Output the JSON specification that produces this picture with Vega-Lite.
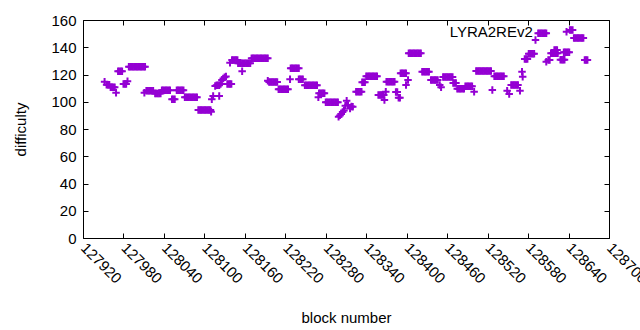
{
  "$schema": "https://vega.github.io/schema/vega-lite/v6.json",
  "width": 526,
  "height": 218,
  "autosize": {"type": "none"},
  "padding": {"left": 83, "top": 20, "right": 31, "bottom": 92},
  "background": "white",
  "config": {
    "view": {"stroke": "black", "strokeWidth": 1},
    "font": "Liberation Sans",
    "axis": {"labelFont": "Liberation Sans", "titleFont": "Liberation Sans", "labelFontSize": 15, "titleFontSize": 15, "titleFontWeight": "normal", "labelColor": "black", "titleColor": "black", "tickColor": "black", "domain": false, "grid": false, "tickSize": -5, "tickWidth": 1}
  },
  "resolve": {"axis": {"x": "independent", "y": "independent"}},
  "layer": [
    {
      "data": {"values": [
        {"b":127952,"d":114.7},
        {"b":127955,"d":112.5},{"b":127957,"d":112.5},{"b":127959,"d":112.5},
        {"b":127961,"d":110.6},{"b":127963,"d":110.6},{"b":127965,"d":110.6},{"b":127967,"d":110.6},
        {"b":127969,"d":106.6},
        {"b":127972,"d":122.3},{"b":127974,"d":122.3},{"b":127976,"d":122.3},{"b":127978,"d":122.3},
        {"b":127980,"d":113},{"b":127982,"d":113},{"b":127984,"d":113},
        {"b":127986,"d":115},
        {"b":127988,"d":125.7},{"b":127990,"d":125.7},{"b":127992,"d":125.7},{"b":127994,"d":125.7},{"b":127996,"d":125.7},{"b":127998,"d":125.7},{"b":128000,"d":125.7},{"b":128002,"d":125.7},{"b":128004,"d":125.7},{"b":128006,"d":125.7},{"b":128008,"d":125.7},{"b":128010,"d":125.7},{"b":128012,"d":125.7},
        {"b":128011,"d":106.6},
        {"b":128014,"d":108},{"b":128016,"d":108},{"b":128018,"d":108},{"b":128020,"d":108},{"b":128022,"d":108},{"b":128024,"d":108},
        {"b":128027,"d":106},{"b":128029,"d":106},{"b":128031,"d":106},{"b":128033,"d":106},{"b":128035,"d":106},
        {"b":128037,"d":108.5},{"b":128039,"d":108.5},{"b":128041,"d":108.5},{"b":128043,"d":108.5},{"b":128045,"d":108.5},{"b":128047,"d":108.5},{"b":128049,"d":108.5},
        {"b":128052,"d":101.8},{"b":128054,"d":101.8},{"b":128056,"d":101.8},
        {"b":128059,"d":108.4},{"b":128061,"d":108.4},{"b":128063,"d":108.4},{"b":128065,"d":108.4},{"b":128067,"d":108.4},{"b":128069,"d":108.4},
        {"b":128071,"d":103.3},{"b":128073,"d":103.3},{"b":128075,"d":103.3},{"b":128077,"d":103.3},{"b":128079,"d":103.3},{"b":128081,"d":103.3},{"b":128083,"d":103.3},{"b":128085,"d":103.3},{"b":128087,"d":103.3},{"b":128089,"d":103.3},
        {"b":128091,"d":94},{"b":128093,"d":94},{"b":128095,"d":94},{"b":128097,"d":94},{"b":128099,"d":94},{"b":128101,"d":94},{"b":128103,"d":94},{"b":128105,"d":94},{"b":128107,"d":94},{"b":128109,"d":94},
        {"b":128110,"d":92.7},{"b":128111,"d":101.8},{"b":128113,"d":104.2},{"b":128116,"d":111.6},
        {"b":128118,"d":112.1},{"b":128120,"d":112.1},{"b":128122,"d":112.1},
        {"b":128122,"d":104.2},{"b":128124,"d":113},
        {"b":128126,"d":116},{"b":128128,"d":117},{"b":128130,"d":118},{"b":128132,"d":118.5},
        {"b":128134,"d":113},{"b":128136,"d":113},{"b":128138,"d":113},{"b":128140,"d":113},
        {"b":128138,"d":128.7},
        {"b":128141,"d":130.6},{"b":128143,"d":130.6},{"b":128145,"d":130.6},{"b":128147,"d":130.6},{"b":128149,"d":130.6},
        {"b":128150,"d":128.2},{"b":128152,"d":128.2},{"b":128154,"d":128.2},{"b":128156,"d":128.2},{"b":128158,"d":128.2},{"b":128160,"d":128.2},{"b":128162,"d":128.2},{"b":128164,"d":128.2},{"b":128166,"d":128.2},{"b":128168,"d":128.2},
        {"b":128156,"d":122.3},
        {"b":128170,"d":131.9},{"b":128172,"d":131.9},{"b":128174,"d":131.9},{"b":128176,"d":131.9},{"b":128178,"d":131.9},{"b":128180,"d":131.9},{"b":128182,"d":131.9},{"b":128184,"d":131.9},{"b":128186,"d":131.9},{"b":128188,"d":131.9},{"b":128190,"d":131.9},{"b":128192,"d":131.9},{"b":128194,"d":131.9},
        {"b":128194,"d":115.4},
        {"b":128196,"d":114.5},{"b":128198,"d":114.5},{"b":128200,"d":114.5},{"b":128202,"d":114.5},{"b":128204,"d":114.5},{"b":128206,"d":114.5},{"b":128208,"d":114.5},
        {"b":128210,"d":109.1},{"b":128212,"d":109.1},{"b":128214,"d":109.1},{"b":128216,"d":109.1},{"b":128218,"d":109.1},{"b":128220,"d":109.1},{"b":128222,"d":109.1},{"b":128224,"d":109.1},
        {"b":128227,"d":116.5},
        {"b":128228,"d":124.6},{"b":128230,"d":124.6},{"b":128232,"d":124.6},{"b":128234,"d":124.6},{"b":128236,"d":124.6},{"b":128238,"d":124.6},{"b":128240,"d":124.6},
        {"b":128240,"d":116.5},{"b":128242,"d":116.5},{"b":128244,"d":116.5},{"b":128246,"d":116.5},
        {"b":128249,"d":112.1},{"b":128251,"d":112.1},{"b":128253,"d":112.1},{"b":128255,"d":112.1},{"b":128257,"d":112.1},{"b":128259,"d":112.1},{"b":128261,"d":112.1},{"b":128263,"d":112.1},{"b":128265,"d":112.1},{"b":128267,"d":112.1},
        {"b":128269,"d":103.3},
        {"b":128270,"d":106.2},{"b":128272,"d":106.2},{"b":128274,"d":106.2},{"b":128276,"d":106.2},{"b":128278,"d":106.2},
        {"b":128280,"d":99.6},{"b":128282,"d":99.6},{"b":128284,"d":99.6},{"b":128286,"d":99.6},{"b":128288,"d":99.6},{"b":128290,"d":99.6},{"b":128292,"d":99.6},{"b":128294,"d":99.6},{"b":128296,"d":99.6},{"b":128298,"d":99.6},
        {"b":128299,"d":89},{"b":128301,"d":90},{"b":128303,"d":91},{"b":128305,"d":92.5},{"b":128307,"d":93.5},{"b":128309,"d":97},{"b":128311,"d":100.8},{"b":128313,"d":97.6},{"b":128316,"d":95},{"b":128318,"d":96.5},{"b":128320,"d":96.4},
        {"b":128325,"d":107.4},{"b":128327,"d":107.4},{"b":128329,"d":107.4},{"b":128331,"d":107.4},{"b":128333,"d":107.4},
        {"b":128334,"d":114.3},{"b":128336,"d":114.3},{"b":128338,"d":114.3},
        {"b":128340,"d":118.7},{"b":128342,"d":118.7},{"b":128344,"d":118.7},{"b":128346,"d":118.7},{"b":128348,"d":118.7},{"b":128350,"d":118.7},{"b":128352,"d":118.7},{"b":128354,"d":118.7},{"b":128356,"d":118.7},
        {"b":128358,"d":105},{"b":128360,"d":105},{"b":128362,"d":105},{"b":128364,"d":105},{"b":128366,"d":105},
        {"b":128367,"d":101.3},{"b":128369,"d":107.4},
        {"b":128370,"d":114.7},{"b":128372,"d":114.7},{"b":128374,"d":114.7},{"b":128376,"d":114.7},{"b":128378,"d":114.7},{"b":128380,"d":114.7},{"b":128382,"d":114.7},
        {"b":128384,"d":107.2},{"b":128386,"d":107.2},
        {"b":128388,"d":103},{"b":128390,"d":103},
        {"b":128391,"d":120.9},{"b":128393,"d":120.9},{"b":128395,"d":120.9},{"b":128397,"d":120.9},{"b":128399,"d":120.9},
        {"b":128399,"d":112.3},{"b":128402,"d":116},
        {"b":128403,"d":135.6},{"b":128405,"d":135.6},{"b":128407,"d":135.6},{"b":128409,"d":135.6},{"b":128411,"d":135.6},{"b":128413,"d":135.6},{"b":128415,"d":135.6},{"b":128417,"d":135.6},{"b":128419,"d":135.6},{"b":128421,"d":135.6},
        {"b":128423,"d":122.1},{"b":128425,"d":122.1},{"b":128427,"d":122.1},{"b":128429,"d":122.1},{"b":128431,"d":122.1},{"b":128433,"d":122.1},
        {"b":128436,"d":116},{"b":128438,"d":116},{"b":128440,"d":116},{"b":128442,"d":116},{"b":128444,"d":116},{"b":128446,"d":116},
        {"b":128449,"d":112.3},{"b":128451,"d":110.6},
        {"b":128454,"d":118.2},{"b":128456,"d":118.2},{"b":128458,"d":118.2},{"b":128460,"d":118.2},{"b":128462,"d":118.2},{"b":128464,"d":118.2},{"b":128466,"d":118.2},{"b":128468,"d":118.2},
        {"b":128469,"d":113.8},{"b":128471,"d":113.8},{"b":128473,"d":113.8},
        {"b":128475,"d":109.6},{"b":128477,"d":109.6},{"b":128479,"d":109.6},{"b":128481,"d":109.6},{"b":128483,"d":109.6},{"b":128485,"d":109.6},
        {"b":128487,"d":111.3},{"b":128489,"d":111.3},{"b":128491,"d":111.3},{"b":128493,"d":111.3},{"b":128495,"d":111.3},{"b":128497,"d":111.3},
        {"b":128500,"d":107.4},
        {"b":128503,"d":122.6},{"b":128505,"d":122.6},{"b":128507,"d":122.6},{"b":128509,"d":122.6},{"b":128511,"d":122.6},{"b":128513,"d":122.6},{"b":128515,"d":122.6},{"b":128517,"d":122.6},{"b":128519,"d":122.6},{"b":128521,"d":122.6},{"b":128523,"d":122.6},{"b":128525,"d":122.6},
        {"b":128527,"d":108.6},
        {"b":128530,"d":118.7},{"b":128532,"d":118.7},{"b":128534,"d":118.7},{"b":128536,"d":118.7},{"b":128538,"d":118.7},{"b":128540,"d":118.7},{"b":128542,"d":118.7},{"b":128544,"d":118.7},
        {"b":128549,"d":108.1},{"b":128552,"d":105.7},
        {"b":128555,"d":112.3},{"b":128557,"d":112.3},{"b":128559,"d":112.3},{"b":128561,"d":112.3},{"b":128563,"d":112.3},{"b":128565,"d":112.3},
        {"b":128568,"d":108.1},{"b":128571,"d":122.1},{"b":128572,"d":118.4},
        {"b":128575,"d":131.4},{"b":128577,"d":131.4},{"b":128579,"d":131.4},
        {"b":128581,"d":135.3},{"b":128583,"d":135.3},{"b":128585,"d":135.3},{"b":128587,"d":135.3},{"b":128589,"d":135.3},
        {"b":128591,"d":145.3},
        {"b":128595,"d":150.2},{"b":128597,"d":150.2},{"b":128599,"d":150.2},{"b":128601,"d":150.2},{"b":128603,"d":150.2},{"b":128605,"d":150.2},{"b":128607,"d":150.2},
        {"b":128607,"d":129.4},
        {"b":128610,"d":130.6},{"b":128612,"d":130.6},
        {"b":128614,"d":135.6},{"b":128616,"d":135.6},{"b":128618,"d":135.6},{"b":128620,"d":135.6},{"b":128622,"d":135.6},{"b":128624,"d":135.6},
        {"b":128619,"d":138},{"b":128621,"d":138},{"b":128623,"d":138},
        {"b":128628,"d":130.9},{"b":128630,"d":130.9},{"b":128632,"d":130.9},{"b":128634,"d":130.9},
        {"b":128633,"d":136.3},{"b":128635,"d":136.3},{"b":128637,"d":136.3},{"b":128639,"d":136.3},{"b":128641,"d":136.3},
        {"b":128637,"d":151.4},
        {"b":128642,"d":152.7},{"b":128644,"d":152.7},{"b":128646,"d":152.7},
        {"b":128648,"d":146.8},{"b":128650,"d":146.8},{"b":128652,"d":146.8},{"b":128654,"d":146.8},{"b":128656,"d":146.8},{"b":128658,"d":146.8},{"b":128660,"d":146.8},{"b":128662,"d":146.8},
        {"b":128664,"d":130.6},{"b":128666,"d":130.6},{"b":128668,"d":130.6}
      ]},
      "mark": {"type": "point", "shape": "M-1,0H1M0,-1V1", "filled": false, "stroke": "#9400d3", "strokeWidth": 2, "size": 56, "opacity": 1, "clip": true},
      "encoding": {
        "x": {"field": "b", "type": "quantitative", "scale": {"domain": [127920, 128700], "nice": false, "zero": false},
              "axis": {"orient": "bottom", "title": "block number", "values": [127920,127980,128040,128100,128160,128220,128280,128340,128400,128460,128520,128580,128640,128700], "format": "d", "labelAngle": 45, "labelAlign": "left", "labelBaseline": "middle", "labelPadding": 12, "titlePadding": 24, "labelOverlap": false, "labelBound": false, "labelFlush": false}},
        "y": {"field": "d", "type": "quantitative", "scale": {"domain": [0, 160], "nice": false},
              "axis": {"orient": "left", "title": "difficulty", "values": [0,20,40,60,80,100,120,140,160], "labelPadding": 12, "titlePadding": 22}}
      }
    },
    {
      "data": {"values": [{"b": 128587, "d": 151, "t": "LYRA2REv2"}]},
      "mark": {"type": "text", "align": "right", "baseline": "middle", "font": "Liberation Sans", "fontSize": 15, "color": "black"},
      "encoding": {
        "x": {"field": "b", "type": "quantitative", "axis": {"orient": "top", "labels": false, "title": null, "values": [127920,127980,128040,128100,128160,128220,128280,128340,128400,128460,128520,128580,128640,128700]}},
        "y": {"field": "d", "type": "quantitative", "axis": {"orient": "right", "labels": false, "title": null, "values": [0,20,40,60,80,100,120,140,160]}},
        "text": {"field": "t"}
      }
    }
  ]
}
